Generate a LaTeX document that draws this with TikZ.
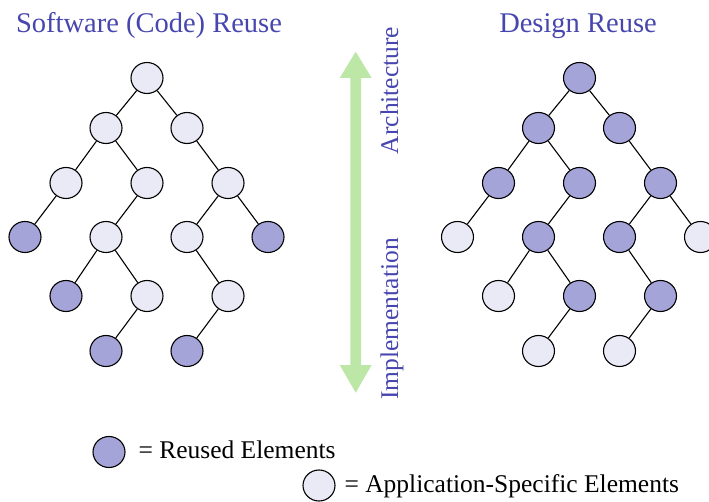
\documentclass[tikz,border=0pt]{standalone}
\usepackage{fontspec}
\setmainfont{Liberation Serif}
\usetikzlibrary{shapes.geometric}

\definecolor{reusedfill}{HTML}{A4A4D8}
\definecolor{appfill}{HTML}{EAEAF6}
\definecolor{labelblue}{HTML}{4646AE}
\definecolor{arrowgreen}{HTML}{BDE7A6}

\tikzset{
  elem/.style={ellipse, draw=black, line width=1.1pt, minimum width=32pt,
               minimum height=31pt, inner sep=0pt},
  reused/.style={elem, fill=reusedfill},
  appspec/.style={elem, fill=appfill},
  link/.style={line width=1.1pt},
  heading/.style={text=labelblue, anchor=base, font=\fontsize{28.5}{30}\selectfont},
  axislabel/.style={text=labelblue, anchor=base, rotate=90, font=\fontsize{25.5}{28}\selectfont},
  legendtext/.style={anchor=base west, font=\fontsize{25.5}{28}\selectfont}
}

\begin{document}
\begin{tikzpicture}[x=1pt, y=-1pt]
  \useasboundingbox (0,0) rectangle (709,502);

  % headings
  \node[heading] (hsw) at (149,33) {Software (Code) Reuse};
  \node[heading] (hdes) at (578,33) {Design Reuse};

  % two trees: same shape, colours swapped
  \foreach \pre/\dx/\inner/\leaf in {L/0/appspec/reused, R/432.5/reused/appspec} {
    \begin{scope}[shift={(\dx,0)}]
      \node[\inner] (\pre r) at (147,78) {};
      \node[\inner] (\pre a) at (106,128) {};
      \node[\inner] (\pre b) at (187,128) {};
      \node[\inner] (\pre c) at (66,183) {};
      \node[\inner] (\pre d) at (147,183) {};
      \node[\inner] (\pre e) at (228,183) {};
      \node[\leaf]  (\pre f) at (25,237) {};
      \node[\inner] (\pre g) at (106,237) {};
      \node[\inner] (\pre h) at (187,237) {};
      \node[\leaf]  (\pre i) at (268,237) {};
      \node[\leaf]  (\pre j) at (66,296) {};
      \node[\inner] (\pre k) at (147,296) {};
      \node[\inner] (\pre l) at (228,296) {};
      \node[\leaf]  (\pre m) at (106,351) {};
      \node[\leaf]  (\pre n) at (187,351) {};
      \draw[link] (\pre r) -- (\pre a);
      \draw[link] (\pre r) -- (\pre b);
      \draw[link] (\pre a) -- (\pre c);
      \draw[link] (\pre a) -- (\pre d);
      \draw[link] (\pre b) -- (\pre e);
      \draw[link] (\pre c) -- (\pre f);
      \draw[link] (\pre d) -- (\pre g);
      \draw[link] (\pre e) -- (\pre h);
      \draw[link] (\pre e) -- (\pre i);
      \draw[link] (\pre g) -- (\pre j);
      \draw[link] (\pre g) -- (\pre k);
      \draw[link] (\pre h) -- (\pre l);
      \draw[link] (\pre k) -- (\pre m);
      \draw[link] (\pre l) -- (\pre n);
    \end{scope}
  }

  % double-headed axis arrow
  \fill[arrowgreen] (355.7,51.7) -- (371.7,78) -- (361,78) -- (361,365)
    -- (371.7,365) -- (355.7,392.7) -- (339.7,365) -- (350.4,365)
    -- (350.4,78) -- (339.7,78) -- cycle;
  \node[axislabel] (arch) at (398,90.5) {Architecture};
  \node[axislabel] (impl) at (398,319) {Implementation};

  % legend
  \node[reused]  (kreused) at (109,452) {};
  \node[legendtext] (treused) at (135,458) {= Reused Elements};
  \node[appspec] (kapp) at (319,485.5) {};
  \node[legendtext] (tapp) at (341,492) {= Application-Specific Elements};
\end{tikzpicture}
\end{document}
